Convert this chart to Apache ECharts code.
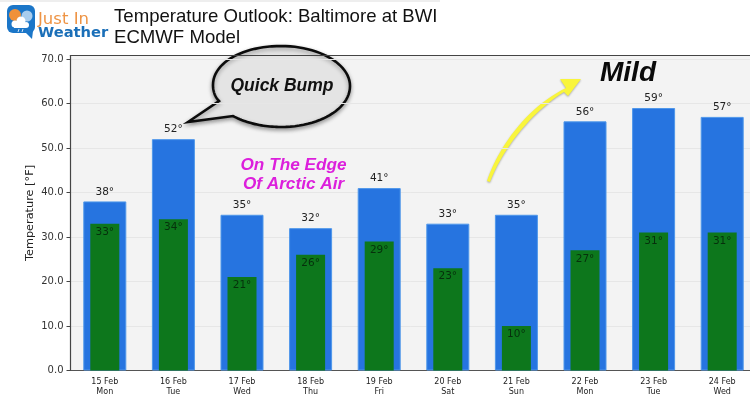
<!DOCTYPE html>
<html>
<head>
<meta charset="utf-8">
<style>
  html, body { margin: 0; padding: 0; background: #fff; }
  #chart { width: 750px; height: 396px; }
</style>
<script src="https://cdn.jsdelivr.net/npm/echarts@6/dist/echarts.min.js"></script>
</head>
<body>
<div id="chart"></div>
<script>
// values
const dates = ['15 Feb', '16 Feb', '17 Feb', '18 Feb', '19 Feb', '20 Feb', '21 Feb', '22 Feb', '23 Feb', '24 Feb'];
const days = ['Mon', 'Tue', 'Wed', 'Thu', 'Fri', 'Sat', 'Sun', 'Mon', 'Tue', 'Wed'];
const highs = [38, 52, 35, 32, 41, 33, 35, 56, 59, 57];
const lows = [33, 34, 21, 26, 29, 23, 10, 27, 31, 31];

const categories = dates.map((d, i) => `${d}\n${days[i]}`);
const sans = 'DejaVu Sans';
const arial = 'Liberation Sans';

const myChart = echarts.init(document.getElementById('chart'), null, { renderer: 'canvas' });

// turns a start point and cubic segments into polygon points
function outline(start, segments) {
  const pts = [start];
  let p0 = start;
  segments.forEach((s) => {
    if (s.length === 1) {
      pts.push(s[0]);
      [p0] = s;
      return;
    }
    for (let k = 1; k <= 24; k++) {
      const t = k / 24;
      const u = 1 - t;
      pts.push([0, 1].map(j => u * u * u * p0[j] + 3 * u * u * t * s[0][j] + 3 * u * t * t * s[1][j] + t * t * t * s[2][j]));
    }
    [, , p0] = s;
  });
  return pts;
}

const bubble = outline([188, 122], [
  [[219, 101]],
  [[215, 97], [213, 91], [213, 85]],
  [[213, 62], [244, 46], [281, 46]],
  [[319, 46], [350, 64], [350, 86]],
  [[350, 109], [319, 127], [281, 127]],
  [[263, 127], [246, 123], [233, 116]],
]);

const arrow = outline([487, 181], [
  [[497, 150], [525, 108], [566, 88]],
  [[560, 79]],
  [[581, 79]],
  [[568, 96]],
  [[564, 92]],
  [[531, 112], [502, 150], [490, 182]],
]);

const magentaText = {
  font: `italic bold 17.2px ${arial}`,
  fill: '#dc1fdc',
  align: 'center',
  verticalAlign: 'middle',
  shadowColor: '#222',
  shadowBlur: 1.5,
  shadowOffsetX: 1,
  shadowOffsetY: 1,
};

// logo, bubble, arrow and headings sit on top of the chart
const overlays = [
  { type: 'rect', shape: { x: 0, y: 0, width: 440, height: 2 }, style: { fill: '#eeeeee' } },
  // logo
  { type: 'rect', shape: { x: 7, y: 5, width: 28, height: 28, r: 6 }, style: { fill: '#1b76c8' } },
  { type: 'polygon', shape: { points: [[24, 31], [33, 31], [32, 39]] }, style: { fill: '#1b76c8' } },
  { type: 'circle', shape: { cx: 15, cy: 15, r: 6 }, style: { fill: '#f0913a' } },
  { type: 'circle', shape: { cx: 27, cy: 16, r: 5.5 }, style: { fill: '#a8cdee' } },
  { type: 'circle', shape: { cx: 15, cy: 24, r: 3.5 }, style: { fill: '#ffffff' } },
  { type: 'circle', shape: { cx: 21, cy: 21, r: 4.5 }, style: { fill: '#ffffff' } },
  { type: 'circle', shape: { cx: 26, cy: 25, r: 3 }, style: { fill: '#ffffff' } },
  { type: 'rect', shape: { x: 14, y: 24, width: 12, height: 4 }, style: { fill: '#ffffff' } },
  { type: 'line', shape: { x1: 19, y1: 29, x2: 18, y2: 32 }, style: { stroke: '#cfe3f5', lineWidth: 1 } },
  { type: 'line', shape: { x1: 23, y1: 29, x2: 22, y2: 32 }, style: { stroke: '#cfe3f5', lineWidth: 1 } },
  { type: 'text', x: 38, y: 11, style: { text: 'Just In', font: `16.5px ${sans}`, fill: '#ee9445' } },
  { type: 'text', x: 38, y: 26, style: { text: 'Weather', font: `bold 14.7px ${sans}`, fill: '#1b6fb8' } },
  // title
  { type: 'text', x: 114, y: 7, style: { text: 'Temperature Outlook: Baltimore at BWI', font: `18.6px ${arial}`, fill: '#111' } },
  { type: 'text', x: 114, y: 28, style: { text: 'ECMWF Model', font: `18.6px ${arial}`, fill: '#111' } },
  // speech bubble
  {
    type: 'polygon',
    shape: { points: bubble },
    style: { fill: '#e4e4e4', stroke: '#0c0c0c', lineWidth: 2.6, shadowColor: 'rgba(0,0,0,0.35)', shadowBlur: 4, shadowOffsetY: 2 },
  },
  { type: 'text', x: 282, y: 86, style: { text: 'Quick Bump', font: `italic bold 17.5px ${arial}`, fill: '#111', align: 'center', verticalAlign: 'middle' } },
  // annotation
  { type: 'text', x: 293.5, y: 165, style: { text: 'On The Edge', ...magentaText } },
  { type: 'text', x: 293.5, y: 184, style: { text: 'Of Arctic Air', ...magentaText } },
  // yellow arrow
  {
    type: 'polygon',
    shape: { points: arrow },
    style: { fill: '#f9f53c', shadowColor: 'rgba(0,0,0,0.3)', shadowBlur: 2, shadowOffsetY: 1 },
  },
  { type: 'text', x: 628, y: 73, style: { text: 'Mild', font: `italic bold 28px ${arial}`, fill: '#0a0a0a', align: 'center', verticalAlign: 'middle' } },
];

const option = {
  animation: false,
  backgroundColor: '#ffffff',
  grid: {
    show: true,
    left: 70.5,
    top: 55.5,
    width: 686,
    height: 315,
    outerBoundsMode: 'none',
    backgroundColor: '#f3f3f3',
    borderWidth: 0,
  },
  xAxis: [
    {
      type: 'category',
      data: categories,
      axisLine: { lineStyle: { color: '#555', width: 1.2 } },
      axisTick: { alignWithLabel: true, length: 3, lineStyle: { color: '#555' } },
      axisLabel: { interval: 0, fontFamily: sans, fontSize: 8, lineHeight: 10, color: '#222', margin: 6 },
    },
    {
      // second axis so the narrow green bars centre on the same ticks
      type: 'category',
      data: categories,
      position: 'top',
      axisLine: { lineStyle: { color: '#444', width: 1.2 } },
      axisTick: { show: false },
      axisLabel: { show: false },
    },
  ],
  yAxis: {
    type: 'value',
    min: 0,
    max: 70.8,
    interval: 10,
    name: 'Temperature [°F]',
    nameLocation: 'middle',
    nameGap: 35,
    nameMoveOverlap: false,
    nameTextStyle: { fontFamily: sans, fontSize: 11.3, color: '#222' },
    axisLine: { show: true, lineStyle: { color: '#444', width: 1.2 } },
    axisTick: { show: true, length: 4, lineStyle: { color: '#444' } },
    axisLabel: {
      fontFamily: sans,
      fontSize: 10,
      color: '#333',
      margin: 7,
      showMaxLabel: false,
      formatter: (v) => v.toFixed(1),
    },
    splitLine: { lineStyle: { color: '#e6e6e6', width: 1 } },
  },
  series: [
    {
      type: 'bar',
      name: 'High',
      xAxisIndex: 0,
      data: highs,
      barWidth: 43,
      itemStyle: { color: '#2674e0', borderColor: '#4f97ea', borderWidth: 1 },
      label: {
        show: true,
        position: 'top',
        distance: 4,
        fontFamily: sans,
        fontSize: 10.5,
        color: '#222',
        formatter: (p) => `${p.value}°`,
      },
    },
    {
      type: 'bar',
      name: 'Low',
      xAxisIndex: 1,
      data: lows,
      barWidth: 29,
      itemStyle: { color: '#0d771c' },
      label: {
        show: true,
        position: 'insideTop',
        distance: 3,
        fontFamily: sans,
        fontSize: 10.5,
        color: '#06300c',
        formatter: (p) => `${p.value}°`,
      },
    },
  ],
  graphic: overlays,
};

myChart.setOption(option);
</script>
</body>
</html>
